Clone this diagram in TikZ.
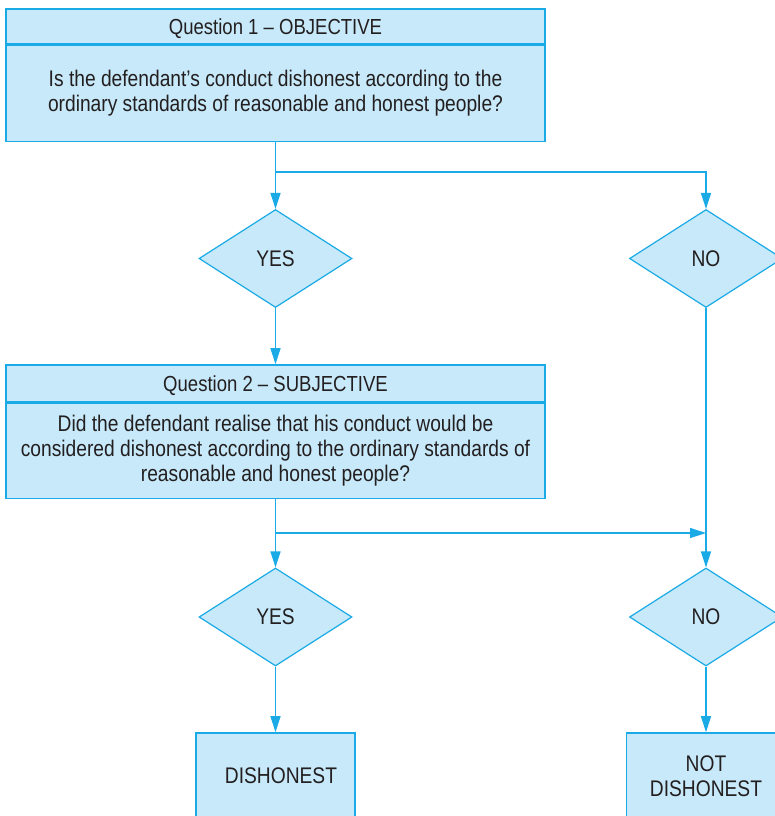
\documentclass[tikz,border=0pt]{standalone}
\usepackage{fontspec}
\setmainfont{Liberation Sans}[FakeStretch=0.85]
\usetikzlibrary{shapes.geometric,arrows.meta,positioning}

\definecolor{flowline}{HTML}{1AAAE6}
\definecolor{flowfill}{HTML}{C7E9F9}
\definecolor{flowtext}{HTML}{231F20}

\tikzset{
  box/.style={draw=flowline,fill=flowfill,line width=0.8pt,text=flowtext,
    font=\fontsize{11.3}{12.5}\selectfont,align=center,inner sep=0pt,
    minimum width=269.5pt},
  title/.style={box,font=\fontsize{10.9}{12.5}\selectfont,text height=8pt,text depth=0pt},
  choice/.style={diamond,draw=flowline,fill=flowfill,line width=0.6pt,text=flowtext,
    font=\fontsize{11.3}{12.5}\selectfont,inner sep=0pt,
    minimum width=76.5pt,minimum height=49pt},
  result/.style={box,minimum width=79.5pt,minimum height=43pt},
  flow/.style={draw=flowline,line width=0.7pt,-{Triangle[length=8pt,width=5pt]}},
}

\begin{document}
\begin{tikzpicture}[x=0.5pt,y=-0.5pt]
  \useasboundingbox (0,0) rectangle (775,816);
  \clip (0,0) rectangle (775,816);

  % first question
  \node[title,minimum height=17.5pt] (q1title) at (275.5,26.5) {Question 1 -- OBJECTIVE};
  \node[box,minimum height=48pt,below=0pt of q1title] (q1body)
    {Is the defendant’s conduct dishonest according to the\\
     ordinary standards of reasonable and honest people?};

  \node[choice] (yes1) at (275.5,258.5) {YES};
  \node[choice] (no1) at (706,258.5) {NO};

  % second question
  \node[title,minimum height=18.5pt] (q2title) at (275.5,383.5) {Question 2 -- SUBJECTIVE};
  \node[box,minimum height=47.5pt,below=0pt of q2title] (q2body)
    {Did the defendant realise that his conduct would be\\
     considered dishonest according to the ordinary standards of\\
     reasonable and honest people?};

  \node[choice] (yes2) at (275.5,617) {YES};
  \node[choice] (no2) at (706,617) {NO};

  \node[result] (guilty) at (275.5,776) {\hspace*{5.5pt}DISHONEST};
  \node[result] (notguilty) at (706,776) {NOT\\DISHONEST};

  \coordinate (split1) at (275.5,172);
  \coordinate (split2) at (275.5,533);
  \coordinate (join2) at (706,533);

  \draw[flow] (q1body.south) -- (yes1.north);
  \draw[flow] (split1) -| (no1.north);
  \draw[flow] (yes1.south) -- (q2title.north);
  \draw[flow] (no1.south) -- (no2.north);
  \draw[flow] (q2body.south) -- (yes2.north);
  \draw[flow] (split2) -- (join2);
  \draw[flow] (yes2.south) -- (guilty.north);
  \draw[flow] (no2.south) -- (notguilty.north);
\end{tikzpicture}
\end{document}
